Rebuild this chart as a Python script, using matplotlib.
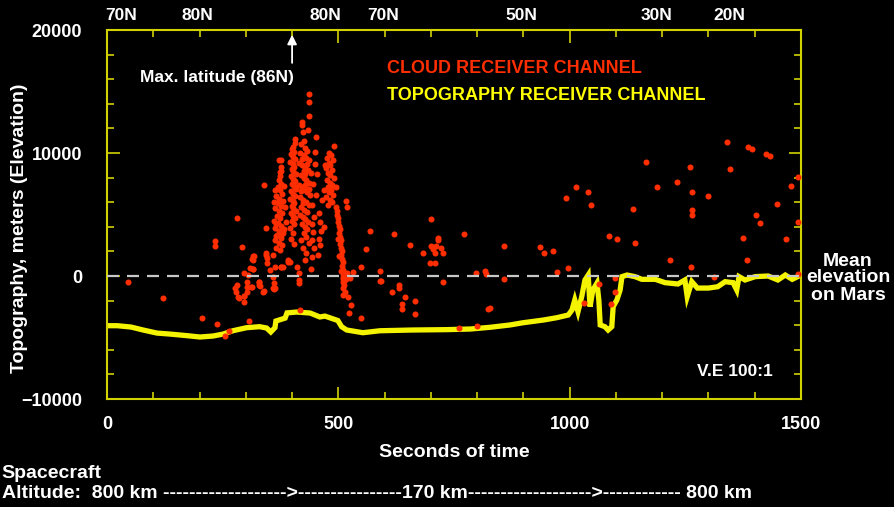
"""MOLA-style topography / cloud returns chart over the north polar pass."""

import matplotlib

matplotlib.use("Agg")
import matplotlib.pyplot as plt
import matplotlib.transforms as mtransforms

# topography receiver channel (seconds, meters)
topo_t = [0, 22, 52, 78, 108, 136, 173, 201, 229, 251, 272, 302, 330, 345, 354, 363, 365,
          385, 389, 410, 439, 460, 471, 499, 507, 518, 553, 590, 661, 734, 785, 828, 871,
          899, 943, 972, 997, 1005, 1011, 1018, 1026, 1033, 1040, 1044, 1050, 1059, 1063,
          1066, 1076, 1083, 1091, 1094, 1102, 1109, 1113, 1124, 1141, 1156, 1185, 1206,
          1234, 1249, 1254, 1264, 1276, 1300, 1320, 1336, 1353, 1361, 1366, 1379, 1401,
          1429, 1450, 1466, 1481, 1500]
topo_v = [-4040, -4040, -4150, -4390, -4640, -4720, -4850, -4960, -4880, -4720, -4450,
          -4200, -4120, -4230, -4550, -4200, -3660, -3420, -3000, -2930, -3010, -3330,
          -3260, -3620, -4120, -4390, -4610, -4450, -4390, -4360, -4310, -4170, -3980,
          -3800, -3580, -3390, -3170, -2760, -1950, -2900, -1680, -325, 80, -2490, -1140,
          -570, -1950, -3980, -4120, -4390, -4120, -2490, -1950, -1140, -50, 80, -50, -270,
          -270, -540, -650, -325, -1680, -460, -980, -980, -870, -460, -540, -1140, -50,
          -325, -50, 0, -325, 80, -270, 80]

# cloud receiver channel returns (seconds, meters)
cloud_t = [
    # scattered, early pass
    45, 121, 205, 237, 254, 263, 285, 296, 296, 307, 418, 234, 234, 281, 291, 339, 344,
    318, 313, 296, 305, 309, 315, 280, 277, 279, 284, 302, 302, 302, 295, 313, 329, 331,
    343, 345, 338, 352, 359, 359, 363, 377, 381, 391, 395, 316, 315, 315, 312, 329, 329,
    340, 360, 360, 343, 345, 359, 363, 366, 377, 392, 410, 416, 416, 416, 440,
    # column A
    372, 375, 376, 373, 371, 376, 369, 374, 378, 366, 372, 380, 369, 375, 364, 371, 378,
    367, 374, 361, 369, 377, 364, 372, 381, 368, 375, 362, 371, 379, 366, 374, 383, 385,
    386, 360, 363, 383, 365, 376, 375, 374,
    # column B
    406, 406, 403, 400, 405, 398, 402, 407, 396, 401, 405, 399, 403, 408, 397, 401, 406,
    400, 404, 409, 398, 402, 407, 396, 401, 405, 399, 403, 408, 397, 402, 406, 400, 404,
    395, 402, 398, 405,
    # column C
    437, 437, 437, 422, 422, 424, 435, 426, 420, 428, 432, 418, 425, 430, 436, 416, 422,
    428, 434, 440, 419, 425, 431, 437, 415, 421, 427, 433, 439, 418, 424, 430, 436, 420,
    426, 432, 417, 423, 429, 435, 421, 427, 433, 425, 430, 419, 437, 424, 431, 426, 433,
    419, 428, 423, 437, 421, 429,
    # between columns
    449, 452, 445, 442, 447, 444, 446, 443, 448, 452, 458, 460, 462, 459, 460, 456, 465,
    468, 428, 442, 454, 450,
    # column D
    491, 480, 484, 476, 488, 479, 483, 474, 486, 478, 482, 490, 475, 481, 487, 477, 484,
    479, 488, 474, 482, 486, 478, 470, 472, 494,
    # column E
    516, 518, 496, 498, 497, 500, 499, 501, 503, 502, 504, 505, 503, 506, 507, 505, 508,
    509, 507, 510, 511, 509, 512, 513, 511, 514, 511, 521, 527, 524, 500, 502, 506, 509,
    518, 525, 509, 516,
    # mid pass
    549, 532, 549, 560, 568, 591, 591, 593, 616, 632, 632, 644, 638, 638, 666, 666, 621,
    655, 700, 682, 700, 705, 709, 711, 716, 716, 722, 726, 698, 709, 727, 772, 761, 799,
    797, 816, 819, 824, 827, 858, 858, 936, 944, 963, 972, 991, 997,
    # late pass
    1014, 1039, 1047, 1030, 1064, 1089, 1099, 1099, 1086, 1102, 1136, 1141, 1164, 1189,
    1233, 1217, 1259, 1264, 1264, 1264, 1262, 1300, 1311, 1339, 1347, 1375, 1383, 1386,
    1394, 1403, 1411, 1424, 1433, 1447, 1467, 1478, 1494, 1494, 1494,
]
cloud_v = [
    # scattered, early pass
    -490, -1790, -3440, -3930, -4880, -4470, -1760, -1630, -2090, -3630, -2760, 2850,
    2440, 4700, 2330, 7370, 3900, 1630, 1350, 220, 80, 630, 540, -730, -1000, -1270,
    -1680, -460, -870, -1330, -1630, -870, -460, -810, 1700, 1440, -1270, 490, -50,
    -1000, -980, 760, 760, 1160, 1160, 1630, 1300, 600, -870, -460, -730, -1190, -600,
    -1080, 1840, 1080, 1700, 760, 3280, 760, 1300, 760, 270, -325, -600, 570,
    # column A
    9400, 8900, 8500, 8100, 7800, 7500, 7200, 7000, 6700, 6500, 6300, 6100, 5900, 5700,
    5500, 5300, 5100, 4900, 4700, 4500, 4300, 4100, 3900, 3700, 3500, 3300, 3100, 2900,
    2700, 2500, 2300, 2100, 3800, 5600, 4400, 6000, 7000, 7300, 4200, 3300, 9430, 8480,
    # column B
    11110, 10790, 10500, 10300, 10100, 9900, 9700, 9500, 9300, 9100, 8900, 8700, 8500,
    8300, 8100, 7900, 7700, 7500, 7300, 7100, 6900, 6700, 6500, 6300, 6100, 5900, 5700,
    5500, 5300, 5100, 4900, 4700, 4500, 4200, 3900, 3500, 3000, 2600,
    # column C
    14800, 14150, 13000, 12550, 12280, 11730, 11870, 11000, 10700, 10400, 10200, 10000,
    9800, 9600, 9400, 9200, 9000, 8800, 8600, 8400, 8200, 8000, 7800, 7600, 7400, 7200,
    7000, 6800, 6600, 6400, 6200, 6000, 5800, 5600, 5400, 5200, 5000, 4800, 4600, 4400,
    4200, 4000, 3800, 3500, 3200, 2900, 2700, 2300, 1900, 8500, 9100, 6900, 7400, 5900,
    7100, 9500, 8300,
    # between columns
    10110, 11330, 7500, 5800, 4800, 4200, 3600, 2900, 2300, 6600, 5100, 4400, 3700,
    3000, 2520, 1700, 6200, 4000, 1300, 1570, 8300, 9100,
    # column D
    10590, 10000, 9800, 9600, 9400, 9200, 9000, 8800, 8600, 8400, 8200, 8000, 7800, 7600,
    7400, 7200, 7000, 6800, 6600, 6400, 6200, 6000, 5800, 7000, 9000, 7200,
    # column E
    6100, 5580, 5600, 5300, 5000, 4700, 4400, 4100, 3800, 3500, 3200, 2900, 2600, 2300,
    2000, 1700, 1400, 1100, 800, 500, 200, -100, -400, -700, -1000, -1300, -1545, -1680,
    -2360, -2980, 3000, 1600, 400, -500, 270, -160, -270, -270,
    # mid pass
    -3390, 350, 760, 2220, 3680, 430, -410, -410, -1330, -730, -950, -1680, -2280, -2680,
    -2060, -3110, 3390, 2550, 4630, 1900, 2440, 2200, 1900, 2440, 3110, 2930, 2280, 1870,
    1080, 1030, -490, 3390, -4250, -4040, 270, 430, 140, -2710, -2580, 2440, -270, 2330,
    1900, 2030, 350, 6320, 680,
    # late pass
    7260, 6860, 5770, -2170, -670, -2280, -1330, -190, 3280, 2980, 5470, 2660, 9240,
    7260, 7670, 1300, 8840, 6860, 5370, 4960, 760, 6530, -50, 10920, 8700, 3060, 1300,
    10510, 10300, 4960, 4340, 9890, 9780, 5880, 2980, 7340, 8070, 4420, 160,
]

lat_labels = ["70N", "80N", "80N", "70N", "50N", "30N", "20N"]
lat_seconds = [30, 195, 471, 597, 895, 1187, 1344]

x_ticks = [0, 500, 1000, 1500]
y_ticks = [-10000, 0, 10000, 20000]

FONT = "Liberation Sans"
FRAME = "#d2d200"
TOPO = "#f4f400"
CLOUD = "#ff2e00"

fig = plt.figure(figsize=(8.94, 5.07), dpi=100, facecolor="black")
ax = fig.add_axes([0.1197, 0.2130, 0.7763, 0.7278], facecolor="black")

ax.plot(topo_t, topo_v, color=TOPO, linewidth=3.8, solid_joinstyle="miter", zorder=2)
ax.scatter(cloud_t, cloud_v, s=19, color=CLOUD, linewidths=0, zorder=3)
ax.axhline(0, color="#c8c8c8", linewidth=1.6, dashes=(5.4, 3.6), zorder=4)

ax.set_xlim(0, 1500)
ax.set_ylim(-10000, 20000)
ax.set_xticks(x_ticks)
ax.set_xticks(range(0, 1501, 100), minor=True)
ax.set_yticks(y_ticks)
ax.set_yticks(range(-10000, 20001, 2000), minor=True)
for side in ax.spines.values():
    side.set_color(FRAME)
    side.set_linewidth(1.5)
ax.tick_params(which="both", direction="in", color=FRAME, top=True, right=True, width=1.2)
ax.tick_params(which="major", length=9)
ax.tick_params(which="minor", length=5)
ax.tick_params(axis="x", labelcolor="white", pad=12, labeltop=False)
ax.tick_params(axis="y", labelcolor="white", pad=18)
for lab in ax.get_xticklabels() + ax.get_yticklabels():
    lab.set_fontfamily(FONT)
    lab.set_fontweight("bold")
    lab.set_fontsize(13)

ax.set_xlabel("Seconds of time", color="white", fontsize=14, fontweight="bold",
              family=FONT, labelpad=8)
fig.text(20 / 894, 1 - 228 / 507, "Topography, meters (Elevation)", rotation=90,
         ha="center", va="center", color="white", fontsize=14, fontweight="bold",
         family=FONT)

# latitude labels along the top
top_tr = mtransforms.blended_transform_factory(ax.transData, fig.transFigure)
for name, sec in zip(lat_labels, lat_seconds):
    ax.text(sec, 0.970, name, transform=top_tr, ha="center", va="center", color="white",
            fontsize=12.5, fontweight="bold", family=FONT, clip_on=False)

ax.annotate("", xy=(400, 19850), xytext=(400, 17100),
            arrowprops=dict(arrowstyle="-|>", color="white", lw=1.3, mutation_scale=14))
ax.text(238, 16150, "Max. latitude (86N)", ha="center", va="center", color="white",
        fontsize=12.5, fontweight="bold", family=FONT)

ax.text(605, 16900, "CLOUD RECEIVER CHANNEL", ha="left", va="center", color=CLOUD,
        fontsize=13, fontweight="bold", family=FONT)
ax.text(605, 14700, "TOPOGRAPHY RECEIVER CHANNEL", ha="left", va="center", color="#ffff00",
        fontsize=13, fontweight="bold", family=FONT)
ax.text(1275, -7800, "V.E 100:1", ha="left", va="center", color="white",
        fontsize=12.5, fontweight="bold", family=FONT)

fig.text(0.9485, 1 - 278 / 507, "Mean\nelevation\non Mars", ha="center", va="center",
         color="white", fontsize=14, fontweight="bold", family=FONT, linespacing=1.0)

fig.text(0.002, 1 - 474 / 507, "Spacecraft", ha="left", va="center", color="white",
         fontsize=14, fontweight="bold", family=FONT)
fig.text(0.002, 1 - 493 / 507,
         "Altitude:  800 km ------------------->----------------170 km"
         "------------------->------------ 800 km",
         ha="left", va="center", color="white", fontsize=14, fontweight="bold",
         family=FONT)

fig.savefig("out.png", dpi=100, facecolor="black")
